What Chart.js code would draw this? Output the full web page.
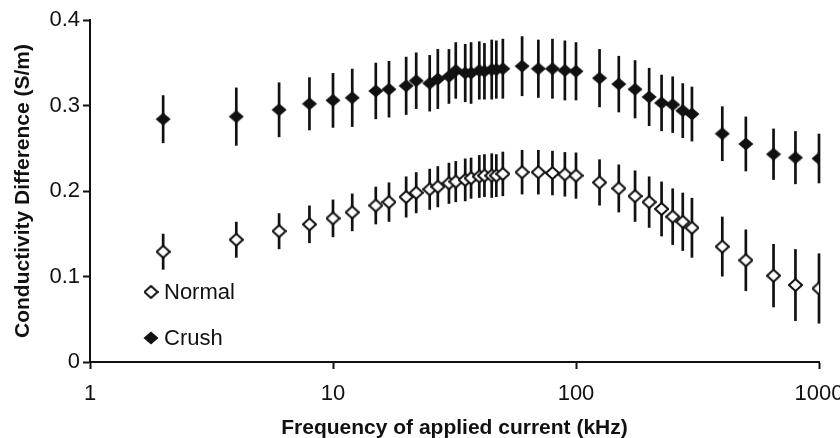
<!DOCTYPE html>
<html>
<head>
<meta charset="utf-8">
<script src="https://cdn.jsdelivr.net/npm/chart.js@4/dist/chart.umd.min.js"></script>
<style>
  html, body { margin: 0; padding: 0; background: #fff; }
  canvas { display: block; }
</style>
</head>
<body>
<canvas id="chart" width="840" height="438"></canvas>
<script>
// Frequencies (kHz)
const freqs = [2, 4, 6, 8, 10, 12, 15, 17, 20, 22, 25, 27, 30, 32, 35, 37, 40, 42, 45, 47, 50,
  60, 70, 80, 90, 100, 125, 150, 175, 200, 225, 250, 275, 300, 400, 500, 650, 800, 1000];

// Conductivity difference (S/m), mean and +/- error
const normalMean = [0.129, 0.143, 0.153, 0.161, 0.168, 0.175, 0.183, 0.187, 0.193, 0.198, 0.202, 0.205, 0.209, 0.211, 0.213, 0.215, 0.217, 0.218, 0.218, 0.218, 0.220,
  0.222, 0.222, 0.221, 0.2195, 0.218, 0.210, 0.203, 0.194, 0.187, 0.179, 0.170, 0.164, 0.157, 0.135, 0.119, 0.101, 0.090, 0.086];
const normalErr = [0.021, 0.021, 0.021, 0.022, 0.022, 0.022, 0.022, 0.023, 0.024, 0.024, 0.024, 0.024, 0.024, 0.024, 0.025, 0.024, 0.025, 0.025, 0.026, 0.025, 0.026,
  0.026, 0.026, 0.026, 0.026, 0.027, 0.027, 0.028, 0.030, 0.030, 0.032, 0.033, 0.034, 0.035, 0.035, 0.036, 0.037, 0.042, 0.041];
const crushMean = [0.284, 0.287, 0.295, 0.302, 0.306, 0.309, 0.317, 0.319, 0.323, 0.329, 0.326, 0.331, 0.334, 0.341, 0.338, 0.338, 0.341, 0.340, 0.342, 0.342, 0.343,
  0.346, 0.343, 0.343, 0.341, 0.340, 0.332, 0.325, 0.319, 0.310, 0.303, 0.301, 0.294, 0.290, 0.267, 0.255, 0.243, 0.239, 0.238];
const crushErr = [0.028, 0.034, 0.032, 0.031, 0.032, 0.034, 0.033, 0.033, 0.034, 0.033, 0.033, 0.035, 0.032, 0.033, 0.034, 0.036, 0.034, 0.033, 0.035, 0.034, 0.035,
  0.035, 0.034, 0.035, 0.035, 0.034, 0.034, 0.033, 0.034, 0.034, 0.033, 0.033, 0.032, 0.032, 0.032, 0.032, 0.030, 0.031, 0.029];

const xTicks = [1, 10, 100, 1000];
const yTicks = [0, 0.1, 0.2, 0.3, 0.4];

const ink = '#111111';
const fontFamily = '"Liberation Sans", Arial, sans-serif';

const toPoints = (means) => freqs.map((f, i) => ({ x: f, y: means[i] }));

// Slightly flattened diamond markers
const makeDiamond = (w, h, filled) => {
  const c = document.createElement('canvas');
  c.width = w;
  c.height = h;
  const g = c.getContext('2d');
  const inset = filled ? 0.5 : 1;
  g.beginPath();
  g.moveTo(inset, h / 2);
  g.lineTo(w / 2, inset);
  g.lineTo(w - inset, h / 2);
  g.lineTo(w / 2, h - inset);
  g.closePath();
  g.fillStyle = filled ? ink : '#ffffff';
  g.fill();
  if (!filled) {
    g.lineWidth = 2;
    g.strokeStyle = ink;
    g.stroke();
  }
  return c;
};
const normalMarker = makeDiamond(15, 14, false);
const crushMarker = makeDiamond(16, 14, true);

// Vertical error bars, drawn under the markers
const errorBars = {
  id: 'errorBars',
  beforeDatasetsDraw(chart) {
    const { ctx } = chart;
    const yScale = chart.scales.y;
    chart.data.datasets.forEach((ds, di) => {
      const meta = chart.getDatasetMeta(di);
      ctx.save();
      ctx.strokeStyle = ink;
      ctx.lineWidth = 2.7;
      meta.data.forEach((pt, i) => {
        const v = ds.data[i].y;
        const e = ds.errors[i];
        ctx.beginPath();
        ctx.moveTo(pt.x, yScale.getPixelForValue(v + e));
        ctx.lineTo(pt.x, yScale.getPixelForValue(v - e));
        ctx.stroke();
      });
      ctx.restore();
    });
  },
};

// Legend in the lower-left of the plot
const insideLegend = {
  id: 'insideLegend',
  afterDraw(chart) {
    const { ctx, chartArea } = chart;
    ctx.save();
    ctx.font = '22px ' + fontFamily;
    ctx.textBaseline = 'middle';
    ctx.fillStyle = ink;
    chart.data.datasets.forEach((ds, i) => {
      const cx = chartArea.left + 61;
      const cy = chartArea.bottom - 70 + i * 46;
      const m = ds.pointStyle;
      ctx.drawImage(m, cx - m.width / 2, cy - m.height / 2);
      ctx.fillText(ds.label, cx + 13, cy + 1);
    });
    ctx.restore();
  },
};

new Chart(document.getElementById('chart'), {
  type: 'scatter',
  data: {
    datasets: [
      {
        label: 'Normal',
        data: toPoints(normalMean),
        errors: normalErr,
        pointStyle: normalMarker,
        pointRadius: 7,
      },
      {
        label: 'Crush',
        data: toPoints(crushMean),
        errors: crushErr,
        pointStyle: crushMarker,
        pointRadius: 7,
      },
    ],
  },
  options: {
    responsive: false,
    animation: false,
    layout: { padding: { top: 20, right: 21, left: 0, bottom: 0 } },
    plugins: { legend: { display: false }, tooltip: { enabled: false } },
    scales: {
      x: {
        type: 'logarithmic',
        min: 1,
        max: 1000,
        afterBuildTicks: (scale) => { scale.ticks = xTicks.map((v) => ({ value: v })); },
        afterFit: (scale) => { scale.height = 76; scale.paddingLeft = 0; scale.paddingRight = 0; },
        ticks: {
          autoSkip: false,
          maxRotation: 0,
          padding: 12,
          color: ink,
          font: { family: fontFamily, size: 22 },
          callback: (v) => String(v),
        },
        grid: { drawOnChartArea: false, drawTicks: true, tickLength: 7, tickWidth: 2, tickColor: ink },
        border: { display: true, color: ink, width: 2 },
        title: {
          display: true,
          text: 'Frequency of applied current (kHz)',
          color: ink,
          font: { family: fontFamily, size: 21, weight: 'bold', lineHeight: 1 },
          padding: { top: 0, bottom: -1 },
        },
      },
      y: {
        min: 0,
        max: 0.4,
        afterBuildTicks: (scale) => { scale.ticks = yTicks.map((v) => ({ value: v })); },
        afterFit: (scale) => { scale.width = 90; scale.paddingTop = 0; scale.paddingBottom = 0; },
        ticks: {
          padding: 3,
          color: ink,
          font: { family: fontFamily, size: 22 },
          callback: (v) => String(v),
        },
        grid: { drawOnChartArea: false, drawTicks: true, tickLength: 7, tickWidth: 2, tickColor: ink },
        border: { display: true, color: ink, width: 2 },
        title: {
          display: true,
          text: 'Conductivity Difference (S/m)',
          color: ink,
          font: { family: fontFamily, size: 21, weight: 'bold', lineHeight: 1.2 },
          padding: { top: 11, bottom: 0 },
        },
      },
    },
  },
  plugins: [errorBars, insideLegend],
});
</script>
</body>
</html>
